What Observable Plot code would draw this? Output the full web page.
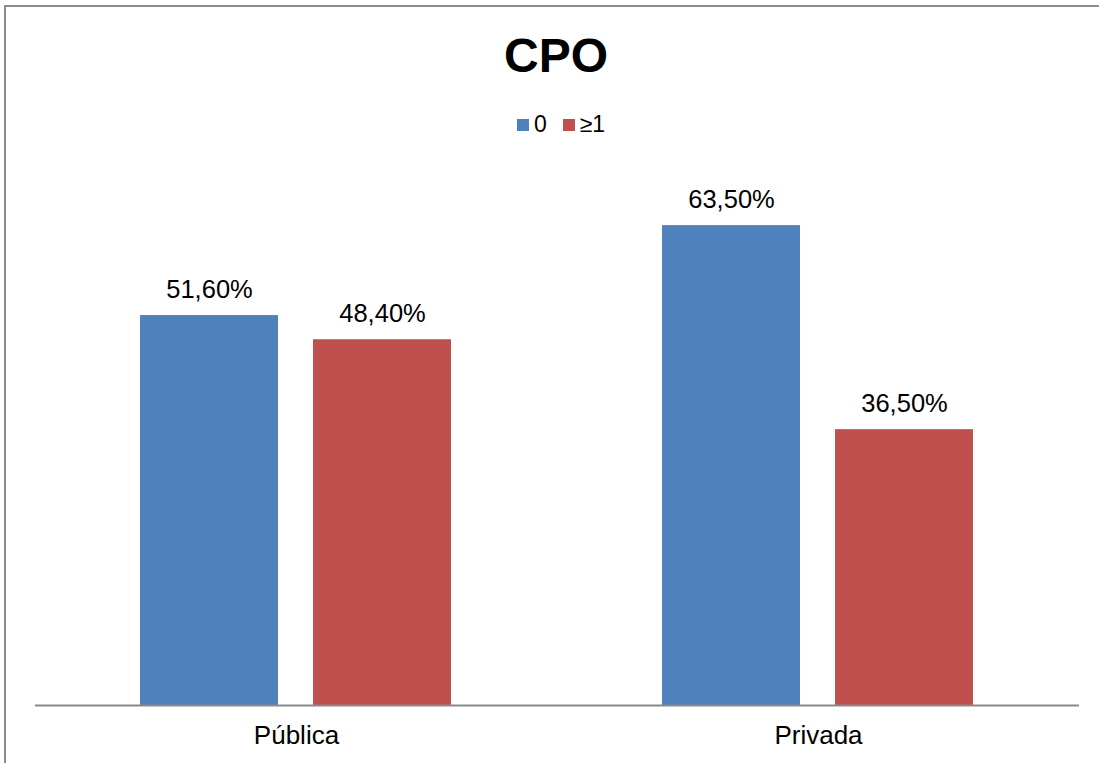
<!DOCTYPE html>
<html>
<head>
<meta charset="utf-8">
<script src="https://cdn.jsdelivr.net/npm/d3@7"></script>
<script src="https://cdn.jsdelivr.net/npm/@observablehq/plot@0.6"></script>
<style>
  html, body { margin: 0; padding: 0; background: #fff; overflow: hidden; }
  body { font-family: "Liberation Sans", Arial, sans-serif; }
  #page { position: relative; width: 1099px; height: 763px; overflow: hidden; }
  #frame { position: absolute; left: 4px; top: 5px; width: 1200px; height: 900px; border: 2px solid #8c8c8c; box-sizing: border-box; }
  #title { position: absolute; left: 0; width: 1112px; top: 32px; text-align: center; font-size: 48px; font-weight: bold; line-height: 48px; color: #000; }
  #legend { position: absolute; left: 0; width: 1122px; top: 113px; display: flex; justify-content: center; align-items: center; font-size: 23px; line-height: 23px; color: #000; }
  .item { display: flex; align-items: center; margin: 0 8px; }
  .sw { width: 12px; height: 12px; margin-right: 5px; }
  #chart { position: absolute; left: 0; top: 160px; }
</style>
</head>
<body>
<div id="page">
  <div id="frame"></div>
  <div id="title">CPO</div>
  <div id="legend"></div>
  <div id="chart"></div>
</div>
<script>
const categories = ["Pública", "Privada"];
const series = ["0", "≥1"];
const values0 = [51.6, 63.5];
const values1 = [48.4, 36.5];
const colors = ["#4F81BD", "#C0504D"];

const data = [];
categories.forEach((c, i) => {
  data.push({category: c, series: series[0], value: values0[i]});
  data.push({category: c, series: series[1], value: values1[i]});
});

const fmt = v => v.toFixed(2).replace(".", ",") + "%";

// legend
const legend = document.getElementById("legend");
series.forEach((s, i) => {
  const item = document.createElement("div");
  item.className = "item";
  const sw = document.createElement("div");
  sw.className = "sw";
  sw.style.background = colors[i];
  const t = document.createElement("span");
  t.textContent = s;
  item.appendChild(sw);
  item.appendChild(t);
  legend.appendChild(item);
});

const plot = Plot.plot({
  width: 1099,
  height: 603,
  marginLeft: 35,
  marginRight: 20,
  marginTop: 16,
  marginBottom: 58,
  style: {fontFamily: "'Liberation Sans', Arial, sans-serif", background: "transparent", overflow: "visible"},
  fx: {domain: categories, padding: 0, label: null},
  x: {domain: series, paddingInner: 0.2, paddingOuter: 0.605, axis: null},
  y: {domain: [0, 70], axis: null},
  color: {domain: series, range: colors},
  marks: [
    Plot.barY(data, {fx: "category", x: "series", y: "value", fill: "series"}),
    Plot.text(data, {fx: "category", x: "series", y: "value", text: d => fmt(d.value), lineAnchor: "bottom", dy: -18, fontSize: 25.5, fill: "#000"}),
    Plot.ruleY([0], {stroke: "#8a8a8a", strokeWidth: 2}),
    Plot.axisFx({tickSize: 0, tickPadding: 20, fontSize: 26, label: null, anchor: "bottom", fill: "#000"})
  ]
});
document.getElementById("chart").appendChild(plot);
</script>
</body>
</html>
